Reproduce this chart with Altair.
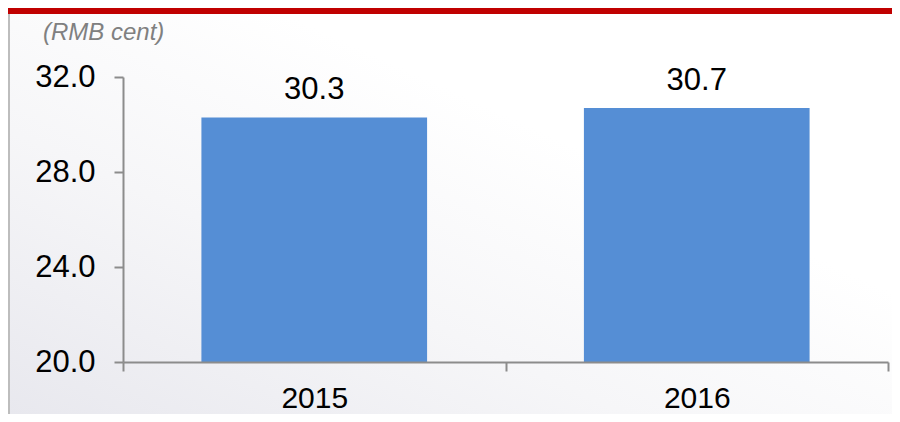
import altair as alt
import pandas as pd

years = ["2015", "2016"]
values = [30.3, 30.7]
y_ticks = [20.0, 24.0, 28.0, 32.0]
unit_label = "(RMB cent)"

df = pd.DataFrame({"year": years, "value": values, "base": [y_ticks[0]] * len(years)})

W, H = 765, 285
PL, PT, PR, PB = 115, 69, 4, 52
FONT = "Liberation Sans"
BLUE = "#558ED5"
AXIS_GRAY = "#8C8C8C"

one = pd.DataFrame({"a": [0]})

bg = alt.Chart(one).mark_rect(
    fill=alt.LinearGradient(
        gradient="linear", x1=0, y1=1, x2=1, y2=0,
        stops=[alt.GradientStop(color="#E8E8EE", offset=0),
               alt.GradientStop(color="#F6F6F8", offset=0.35),
               alt.GradientStop(color="#FFFFFF", offset=0.65)]),
).encode(x=alt.value(-PL), x2=alt.value(W + PR), y=alt.value(-PT), y2=alt.value(H + PB))

redbar = alt.Chart(one).mark_rect(color="#C00000").encode(
    x=alt.value(-PL), x2=alt.value(W + PR), y=alt.value(-PT), y2=alt.value(-PT + 6))

leftline = alt.Chart(one).mark_rect(color="#BDBDBD").encode(
    x=alt.value(-PL), x2=alt.value(-PL + 2), y=alt.value(-PT + 6), y2=alt.value(H + PB))

unit = alt.Chart(one).mark_text(
    text=unit_label, font=FONT, fontSize=24, fontStyle="italic", color="#808080",
    align="left", baseline="alphabetic").encode(x=alt.value(-80), y=alt.value(-37))

xenc = alt.X("year:N", title=None, sort=years,
             scale=alt.Scale(paddingInner=0, paddingOuter=0),
             axis=alt.Axis(labelAngle=0, labelFont=FONT, labelFontSize=30, labelColor="#000000",
                           labelPadding=12, tickSize=9, tickColor=AXIS_GRAY, tickWidth=2,
                           domainColor=AXIS_GRAY, domainWidth=2, tickBand="extent", zindex=1))
yenc = alt.Y("value:Q", title=None,
             scale=alt.Scale(domain=[y_ticks[0], y_ticks[-1]], zero=False, nice=False),
             axis=alt.Axis(values=y_ticks, format=".1f", labelFont=FONT, labelFontSize=31,
                           labelColor="#000000", labelPadding=19, tickSize=9,
                           tickColor=AXIS_GRAY, tickWidth=2, domainColor=AXIS_GRAY,
                           domainWidth=2, grid=False, zindex=1))

bars = alt.Chart(df).mark_bar(color=BLUE, width=alt.RelativeBandSize(0.59)).encode(
    x=xenc, y=yenc, y2="base:Q")

labels = alt.Chart(df).mark_text(font=FONT, fontSize=31, color="#000000",
                                 baseline="alphabetic", dy=-18).encode(
    x=alt.X("year:N", sort=years), y="value:Q", text=alt.Text("value:Q", format=".1f"))

chart = alt.layer(bg, redbar, leftline, unit, bars, labels).properties(
    width=W, height=H,
    padding={"left": PL, "top": PT, "right": PR, "bottom": PB},
    autosize=alt.AutoSizeParams(type="none"),
).configure_view(stroke=None).configure(background="#FFFFFF")

chart.save("out.html", embed_options={"renderer": "svg", "actions": False})
